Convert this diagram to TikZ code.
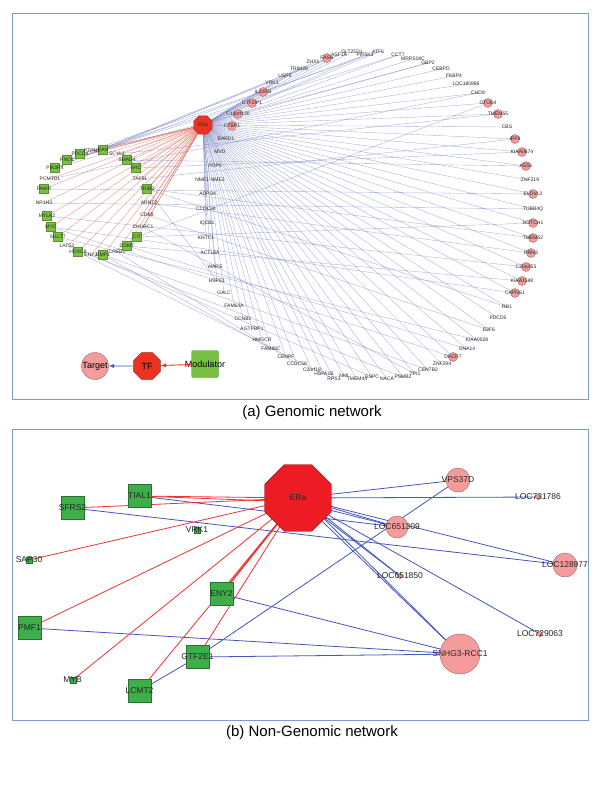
\documentclass[tikz,border=0pt]{standalone}
\usepackage{fontspec}
\setmainfont{Liberation Sans}
\usepackage{tikz}
\tikzset{>=latex}
\usetikzlibrary{shapes.geometric}
\definecolor{framecol}{HTML}{7C9BD0}
\definecolor{tfred}{HTML}{EA3323}
\definecolor{erared}{HTML}{ED1C24}
\definecolor{tgtpink}{HTML}{F49C9C}
\definecolor{modgreen}{HTML}{7AC143}
\definecolor{nggreen}{HTML}{3DAE49}
\definecolor{edgeblue}{HTML}{4455C0}
\definecolor{edgered}{HTML}{F23030}
\definecolor{fadeblue}{HTML}{6E78BE}
\definecolor{fadered}{HTML}{E2614F}

\pgfdeclarelayer{paper}
\pgfdeclarelayer{edges}
\pgfsetlayers{paper,edges,main}

\tikzset{
  tfnode/.style={regular polygon, regular polygon sides=8, fill=tfred, draw=tfred!70!black, inner sep=0pt},
  tgtnode/.style={circle, fill=tgtpink, draw=tgtpink!65!black, inner sep=0pt},
  modnode/.style={rectangle, fill=modgreen, draw=modgreen!75!black, inner sep=0pt, minimum size=9pt},
  ngsq/.style={rectangle, fill=nggreen, draw=nggreen!65!black, inner sep=0pt, minimum size=23pt},
  glabel/.style={inner sep=0pt, font=\fontsize{5}{5}\selectfont, text=black!85},
  nglabel/.style={inner sep=0pt, font=\fontsize{8.5}{8.5}\selectfont, text=black!85},
  gblue/.style={fadeblue, line width=0.35pt, opacity=0.6},
  gred/.style={fadered, line width=0.35pt, opacity=0.7},
  ngblue/.style={edgeblue, line width=0.8pt},
  ngred/.style={edgered, line width=0.8pt},
  caption/.style={font=\fontsize{15}{15}\selectfont}
}

\begin{document}
\begin{tikzpicture}[x=1pt, y=-1pt]
\begin{pgfonlayer}{paper}
  \fill[white] (0,0) rectangle (600,800);
\end{pgfonlayer}
\useasboundingbox (0,0) rectangle (600,800);

\draw[framecol, line width=0.8pt] (12,13) rectangle (588,399);
\draw[framecol, line width=0.8pt] (12,429) rectangle (588,720);

% (a) genomic network
\node[tfnode, minimum size=20pt] (gera) at (203,125) {};
\node[glabel] at (gera) {ERa};

\foreach \nm/\px/\py/\lab/\kind in {
  1/232/126/CTBP1/1, 2/238/114/C14orf130/1, 3/252/103/GTF2IP1/1, 4/263/92/IL10RB/1,
  5/272/83/VRK1/0, 6/285/76/USP5/0, 7/299/69/TRIM28/0, 8/313/62/ZHX1/0,
  9/327/58/FASN/1, 10/339/55/ASF1A/0, 11/352/52/GLT25D1/0, 12/365/55/PIP5K3/0,
  13/378/52/ATF6/0, 14/398/55/CCT7/0, 15/413/59/MRPS18C/0, 16/428/63/GBP2/0,
  17/441/69/CEBPD/0, 18/454/76/FKBP4/0, 19/466/84/LOC180886/0, 20/478/93/CHD9/0,
  21/488/103/OTUD4/1, 22/498/114/TMEM55/1, 23/507/127/CBS/0, 24/515/139/IRF9/1,
  25/522/152/KIAA0674/1, 26/526/166/ASS1/1, 27/530/180/ZNF219/0, 28/533/194/ELOVL2/1,
  29/533/209/TUBB4Q/0, 30/533/223/NOTCH1/1, 31/533/238/TMEM52/1, 32/531/253/RRN3/1,
  33/526/267/C20orf55/1, 34/522/281/KIAA1598/1, 35/515/293/CAPNS1/1, 36/507/307/RB1/0,
  37/498/318/PDCD5/0, 38/489/330/E2F6/0, 39/477/340/KIAA0528/0, 40/467/349/GNA14/0,
  41/453/357/DHCR7/1, 42/442/364/ZNF294/0, 43/428/370/CENTB2/0, 44/415/374/TPI1/0,
  45/403/377/PSMB2/0, 46/387/379/NACA/0, 47/372/377/GSPC/0, 48/357/379/TMEM44/0,
  49/344/376/NMI/0, 50/334/379/RPS3/0, 51/324/374/HSPA1B/0, 52/312/370/C2orf18/0,
  53/297/364/CCDC58/0, 54/286/357/CENPF/0, 55/271/349/FAM86C/0, 56/262/340/HMGCR/0,
  57/252/329/AGTPBP1/0, 58/243/319/CCNB1/0, 59/234/306/FAM64A/0, 60/224/293/GALC/0,
  61/217/281/HSPE1/0, 62/215/267/WARS/0, 63/210/253/ACTL6A/0, 64/206/238/KNTC1/0,
  65/207/223/IQCB1/0, 66/206/209/CCDC34/0, 67/208/194/ADPGK/0, 68/210/180/NME1-NME2/0,
  69/215/166/POP5/0, 70/220/152/MVD/0, 71/226/139/BARD1/0}{
  \ifnum\kind=1 \node[tgtnode, minimum size=9pt] at (\px,\py) {}; \fi
  \node[glabel] (t\nm) at (\px,\py) {\lab};
}

\foreach \nm/\px/\py/\lab/\kind in {
  1/103/150/RAN/1, 2/80/154/PDCD4/1, 3/67/160/PNO1/1, 4/55/168/PIK3R4/1,
  5/50/179/PCMTD1/0, 6/44/189/PAWR/1, 7/44/203/NR1H3/0, 8/47/216/MYLK2/1,
  9/51/227/MYC/1, 10/58/237/MLLT7/1, 11/67/246/LATS2/0, 12/78/252/HOXC8/1,
  13/91/255/ENY2/0, 14/103/255/EMP1/1, 15/117/252/CREB1/0, 16/127/246/COMT/1,
  17/137/237/CIT/1, 18/143/227/CHURC1/0, 19/147/215/CDK8/0, 20/149/203/ARNT2/0,
  21/147/189/TRIB3/1, 22/140/179/TAF5L/0, 23/136/168/SRC/1, 24/127/160/SMAD4/1,
  25/117/154/SCYL1/0, 26/92/151/PTPN1/0}{
  \ifnum\kind=1 \node[modnode] at (\px,\py) {}; \fi
  \node[glabel] (m\nm) at (\px,\py) {\lab};
}

\begin{pgfonlayer}{edges}
  \foreach \nm in {1,...,71}
    \draw[gblue] (gera.center) -- (t\nm.center);
  \foreach \nm in {1,...,26}
    \draw[gred] (gera.center) -- (m\nm.center);
  \foreach \a/\b in {6/28, 8/33, 9/41, 9/35, 10/39, 11/45, 12/50, 14/55, 14/43,
      16/34, 16/40, 17/30, 17/21, 21/31, 21/36, 21/61, 23/25, 24/26, 1/9, 1/12,
      2/13, 3/16, 4/10, 5/20, 25/22, 19/38, 20/32, 18/44, 7/29, 13/47, 15/53,
      26/14, 22/24, 4/7, 3/3}
    \draw[gblue] (m\a.center) -- (t\b.center);
\end{pgfonlayer}

% legend
\node[tgtnode, minimum size=27pt, font=\fontsize{9}{9}\selectfont] (lgtarget) at (95,366) {Target};
\node[tfnode, minimum size=29pt, font=\fontsize{9}{9}\selectfont] (lgtf) at (147,366) {TF};
\node[modnode, rounded corners=2pt, minimum size=27pt] (lgmod) at (205,364) {};
\node[inner sep=0pt, font=\fontsize{9}{9}\selectfont] at (lgmod) {Modulator};
\draw[->, edgered, line width=0.9pt] (lgmod) -- (lgtf);
\draw[->, edgeblue, line width=0.9pt] (lgtf) -- (lgtarget);

\node[caption] (capa) at (312,413) {(a) Genomic network};

% (b) non-genomic network
\node[tfnode, fill=erared, draw=erared!60!black, minimum size=72pt] (era) at (298,498) {};
\node[nglabel] at (era) {ERa};

\node[tgtnode, minimum size=24pt] (vps) at (458,480) {};
\node[nglabel] at (vps) {VPS37D};
\node[tgtnode, minimum size=5pt] (loc731) at (538,497) {};
\node[nglabel] at (loc731) {LOC731786};
\node[tgtnode, minimum size=22pt] (loc6513) at (397,527) {};
\node[nglabel] at (loc6513) {LOC651309};
\node[tgtnode, minimum size=24pt] (loc1289) at (565,565) {};
\node[nglabel] at (loc1289) {LOC128977};
\node[tgtnode, minimum size=5pt] (loc6518) at (400,576) {};
\node[nglabel] at (loc6518) {LOC651850};
\node[tgtnode, minimum size=5pt] (loc7290) at (540,634) {};
\node[nglabel] at (loc7290) {LOC729063};
\node[tgtnode, minimum size=40pt] (snhg) at (460,654) {};
\node[nglabel] at (snhg) {SNHG3-RCC1};

\node[ngsq] (tial) at (139.5,496) {};
\node[nglabel] at (tial) {TIAL1};
\node[ngsq] (sfrs) at (72.5,508) {};
\node[nglabel] at (sfrs) {SFRS2};
\node[ngsq, minimum size=6pt] (vrk) at (197,530) {};
\node[nglabel] at (vrk) {VRK1};
\node[ngsq, minimum size=6pt] (sap) at (29,560) {};
\node[nglabel] at (sap) {SAP30};
\node[ngsq] (eny) at (221.5,594) {};
\node[nglabel] at (eny) {ENY2};
\node[ngsq] (pmf) at (29.5,628) {};
\node[nglabel] at (pmf) {PMF1};
\node[ngsq] (gtf) at (197.5,657) {};
\node[nglabel] at (gtf) {GTF2E1};
\node[ngsq, minimum size=6pt] (myb) at (72.7,680) {};
\node[nglabel] at (myb) {MYB};
\node[ngsq] (lcmt) at (139.5,691) {};
\node[nglabel] at (lcmt) {LCMT2};

\begin{pgfonlayer}{edges}
  \draw[ngblue] (era.center) -- (vps.center);
  \draw[ngblue] (era.center) -- (loc731.center);
  \draw[ngblue] (era.center) -- (loc6513.center);
  \draw[ngblue] ([yshift=-4pt]era.center) -- (loc6513.center);
  \draw[ngblue] (era.center) -- (loc1289.center);
  \draw[ngblue] (era.center) -- (loc6518.center);
  \draw[ngblue] ([xshift=4pt]era.center) -- (loc6518.center);
  \draw[ngblue] (era.center) -- (snhg.center);
  \draw[ngblue] ([xshift=5pt]era.center) -- (snhg.center);
  \draw[ngblue] (era.center) -- (loc7290.center);
  \draw[ngblue] (tial.center) -- (loc6513.center);
  \draw[ngblue] (sfrs.center) -- (loc1289.center);
  \draw[ngblue] (gtf.center) -- (vps.center);
  \draw[ngblue] (eny.center) -- (snhg.center);
  \draw[ngblue] (pmf.center) -- (snhg.center);
  \draw[ngblue] (gtf.center) -- (snhg.center);
  \draw[ngblue] (lcmt.center) -- (gtf.center);
  \draw[ngred] (era.center) -- (tial.center);
  \draw[ngred] ([yshift=-4pt]era.center) -- (tial.center);
  \draw[ngred] (era.center) -- (sfrs.center);
  \draw[ngred] (era.center) -- (sap.center);
  \draw[ngred] (era.center) -- (pmf.center);
  \draw[ngred] (era.center) -- (myb.center);
  \draw[ngred, line width=1.5pt] (era.center) -- (eny.center);
  \draw[ngred] (era.center) -- (lcmt.center);
  \draw[ngred] (era.center) -- (gtf.center);
\end{pgfonlayer}

\node[caption] (capb) at (312,733) {(b) Non-Genomic network};
\end{tikzpicture}
\end{document}
